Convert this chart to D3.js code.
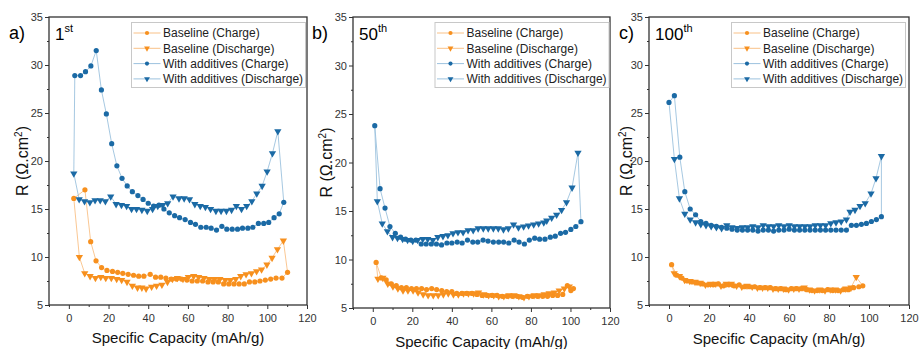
<!DOCTYPE html>
<html>
<head>
<meta charset="utf-8">
<script src="https://cdn.jsdelivr.net/npm/d3@7"></script>
<style>
  body { margin: 0; background: #fff; }
  svg { font-family: "Liberation Sans", Arial, sans-serif; }
</style>
</head>
<body>
<script>
// tick labels
var xTicks = [0, 20, 40, 60, 80, 100, 120];
var xMinor = [-10, 10, 30, 50, 70, 90, 110];
var yTicks = [5, 10, 15, 20, 25, 30, 35];
var yMinor = [7.5, 12.5, 17.5, 22.5, 27.5, 32.5];
var seriesNames = ["Baseline (Charge)", "Baseline (Discharge)", "With additives (Charge)", "With additives (Discharge)"];
var panelLetters = ["a)", "b)", "c)"];
var cycleNums = ["1", "50", "100"];
var cycleSups = ["st", "th", "th"];

// 1st cycle  [capacity mAh/g, R ohm.cm2]
var baseChargeA = [[2.5,16.1],[8.1,17.0],[11.0,11.6],[13.7,9.6],[16.5,8.9],[19.2,8.6],[22.0,8.5],[24.6,8.4],[27.2,8.3],[29.9,8.2],[32.6,8.1],[35.2,8.0],[37.8,8.0],[41.0,8.2],[43.7,7.9],[46.3,7.9],[48.9,7.8],[51.6,7.7],[54.2,7.7],[56.8,7.7],[59.5,7.6],[62.1,7.5],[64.7,7.5],[67.4,7.5],[70.1,7.4],[72.7,7.4],[75.3,7.4],[78.0,7.2],[80.6,7.2],[83.2,7.2],[85.8,7.2],[88.4,7.2],[91.0,7.4],[93.7,7.4],[96.3,7.5],[99.0,7.6],[101.7,7.7],[104.4,7.8],[107.4,7.8],[110.2,8.4]];
var baseDischargeA = [[5.3,10.0],[8.0,8.3],[10.7,8.0],[13.4,7.8],[16.1,7.9],[18.6,7.8],[21.4,7.8],[24.1,7.7],[26.6,7.6],[29.3,7.4],[32.0,7.0],[34.6,6.8],[36.8,6.8],[38.9,6.7],[41.7,6.9],[44.2,7.0],[46.9,7.1],[49.7,7.4],[52.2,7.7],[54.7,7.8],[57.5,7.7],[60.2,7.9],[62.9,8.0],[65.4,7.9],[68.1,7.8],[70.8,7.7],[73.4,7.7],[76.1,7.7],[78.8,7.6],[81.4,7.6],[84.1,7.7],[86.6,8.0],[89.3,8.2],[92.0,8.3],[94.6,8.5],[97.1,8.7],[99.8,9.2],[102.4,9.9],[105.1,10.8],[108.1,11.7]];
var addChargeA = [[3.0,28.9],[5.9,28.9],[8.4,29.3],[11.1,29.9],[13.8,31.5],[16.4,27.4],[18.9,24.9],[21.6,21.8],[24.2,19.5],[26.8,18.2],[29.4,17.4],[32.0,16.8],[34.8,16.4],[37.4,16.0],[40.0,15.6],[42.7,15.3],[45.4,15.4],[47.9,15.0],[50.6,14.6],[53.3,14.3],[55.8,14.1],[58.6,13.9],[61.3,13.6],[63.8,13.4],[66.5,13.1],[69.2,13.1],[71.7,13.0],[74.4,12.8],[77.1,13.2],[79.6,12.9],[82.3,12.9],[85.0,12.9],[87.5,13.0],[90.2,13.0],[92.7,13.1],[95.5,13.5],[98.2,13.5],[100.7,13.6],[103.4,14.1],[106.0,14.5],[108.3,15.7]];
var addDischargeA = [[2.5,18.7],[5.2,16.0],[7.9,15.8],[10.6,15.7],[13.2,15.9],[15.8,15.9],[18.4,15.8],[21.1,16.3],[23.8,15.5],[26.5,15.4],[29.1,15.3],[31.6,15.0],[34.1,15.0],[36.8,14.9],[39.5,14.8],[42.2,15.0],[44.8,15.3],[47.3,15.4],[49.8,15.6],[52.5,16.3],[55.5,16.1],[58.1,16.1],[60.8,16.0],[63.5,15.5],[66.2,15.3],[68.8,15.2],[71.4,15.0],[74.1,14.8],[76.7,14.8],[79.4,14.8],[82.0,14.9],[84.4,15.3],[87.0,15.0],[89.6,15.3],[92.2,15.8],[94.7,16.6],[97.4,17.4],[99.9,18.9],[102.6,20.8],[105.3,23.1]];

// 50th cycle
var baseChargeB = [[1.7,9.7],[4.3,8.1],[6.8,7.9],[9.4,7.5],[11.9,7.3],[14.5,7.1],[17.0,7.1],[19.6,7.0],[22.1,7.0],[24.7,7.0],[27.2,6.9],[29.8,7.0],[32.3,6.9],[34.9,6.8],[37.4,6.7],[40.0,6.7],[42.5,6.5],[45.1,6.5],[47.6,6.5],[50.2,6.5],[52.7,6.4],[55.3,6.3],[57.8,6.3],[60.4,6.3],[62.9,6.3],[65.5,6.2],[68.0,6.2],[70.6,6.2],[73.1,6.2],[75.7,6.1],[78.2,6.2],[80.8,6.2],[83.3,6.2],[85.9,6.2],[88.4,6.2],[91.0,6.3],[93.5,6.3],[96.1,6.4],[98.4,7.3],[100.2,6.8],[101.5,7.0]];
var baseDischargeB = [[2.6,8.0],[5.1,8.1],[7.6,7.5],[10.2,7.2],[12.7,7.0],[15.3,6.8],[17.8,6.8],[20.4,6.8],[22.9,6.6],[25.5,6.4],[28.0,6.3],[30.6,6.3],[33.1,6.3],[35.7,6.4],[38.2,6.5],[40.8,6.4],[43.3,6.4],[45.9,6.5],[48.4,6.5],[51.0,6.5],[53.5,6.6],[56.1,6.4],[58.6,6.3],[61.2,6.3],[63.7,6.2],[66.3,6.2],[68.8,6.3],[71.4,6.3],[73.9,6.2],[76.5,6.1],[79.0,6.2],[81.6,6.3],[84.1,6.3],[86.7,6.4],[89.2,6.5],[91.8,6.6],[94.3,6.8],[96.9,7.0],[99.4,7.2]];
var addChargeB = [[1.0,23.8],[3.7,17.3],[6.2,15.3],[8.7,13.4],[11.4,12.7],[14.1,12.3],[16.6,12.1],[19.3,12.0],[21.8,12.0],[24.5,11.6],[27.0,11.6],[29.6,11.6],[32.2,11.6],[34.8,11.5],[37.5,11.7],[40.0,11.7],[42.7,11.8],[45.2,11.7],[47.9,12.0],[50.6,11.8],[53.1,11.8],[55.8,12.0],[58.3,11.9],[61.0,11.8],[63.7,11.8],[66.2,11.8],[68.8,11.7],[71.5,12.0],[74.0,11.8],[76.7,11.6],[79.2,12.0],[81.9,12.2],[84.4,12.1],[87.1,12.1],[89.8,12.3],[92.3,12.4],[95.0,12.7],[97.5,12.8],[100.2,13.1],[102.7,13.4],[105.3,13.9]];
var addDischargeB = [[2.3,16.0],[4.8,13.7],[7.4,12.9],[10.0,12.3],[12.5,12.2],[15.1,12.1],[17.6,12.0],[20.2,11.9],[22.7,12.0],[25.3,12.1],[27.8,12.1],[30.4,12.0],[32.9,12.3],[35.5,12.4],[38.0,12.5],[40.6,12.7],[43.1,12.8],[45.7,12.8],[48.2,13.0],[50.8,13.0],[53.3,13.2],[55.9,13.2],[58.4,13.2],[61.0,13.2],[63.5,13.2],[66.1,13.1],[68.6,13.2],[71.2,13.6],[73.7,13.3],[76.3,13.4],[78.8,13.5],[81.4,13.6],[83.9,13.7],[86.5,13.8],[88.0,14.0],[90.5,14.3],[93.0,14.6],[95.5,15.1],[98.0,15.9],[100.8,17.4],[103.8,21.0]];

// 100th cycle
var baseChargeC = [[1.3,9.2],[3.9,8.1],[6.5,7.8],[9.1,7.5],[11.7,7.4],[14.3,7.3],[16.9,7.2],[19.5,7.1],[22.1,7.1],[24.7,7.2],[27.3,7.0],[29.9,7.1],[32.5,7.0],[35.1,7.1],[37.7,6.9],[40.3,6.9],[42.9,6.9],[45.5,6.8],[48.1,6.8],[50.7,6.8],[53.3,6.7],[55.9,6.7],[58.5,6.6],[61.1,6.7],[63.7,6.7],[66.3,6.7],[68.9,6.6],[71.5,6.5],[74.1,6.5],[76.7,6.5],[79.3,6.6],[81.9,6.5],[84.5,6.5],[87.1,6.6],[89.7,6.6],[92.3,6.8],[94.9,6.9],[96.9,7.0]];
var baseDischargeC = [[2.6,8.3],[5.2,8.0],[7.8,7.6],[10.4,7.5],[13.0,7.4],[15.6,7.3],[18.2,7.1],[20.8,7.2],[23.4,7.2],[26.0,7.0],[28.6,7.2],[31.2,7.2],[33.8,7.0],[36.4,6.9],[39.0,7.0],[41.6,6.9],[44.2,6.8],[46.8,6.8],[49.4,6.8],[52.0,6.7],[54.6,6.7],[57.2,6.7],[59.8,6.6],[62.4,6.7],[65.0,6.7],[67.6,6.8],[70.2,6.6],[72.8,6.5],[75.4,6.6],[78.0,6.5],[80.6,6.6],[83.2,6.6],[85.8,6.5],[88.4,6.7],[91.0,6.8],[93.6,7.9]];
var addChargeC = [[0.0,26.1],[2.7,26.8],[5.4,20.4],[7.9,16.8],[10.6,15.0],[13.3,14.4],[15.9,13.7],[18.5,13.5],[21.1,13.3],[23.7,13.2],[26.3,13.1],[28.9,13.0],[31.5,12.9],[34.1,12.8],[36.7,12.8],[39.3,12.8],[41.9,12.8],[44.5,12.7],[47.1,12.8],[49.7,12.8],[52.3,12.7],[54.9,12.8],[57.5,12.8],[60.1,12.9],[62.7,12.8],[65.3,12.8],[67.9,12.8],[70.5,12.8],[73.1,12.8],[75.7,12.8],[78.3,12.8],[80.9,12.8],[83.5,12.8],[86.1,12.8],[88.7,12.8],[91.2,13.3],[93.7,13.3],[96.2,13.4],[98.7,13.5],[101.2,13.7],[103.7,13.9],[106.2,14.2]];
var addDischargeC = [[2.7,20.2],[5.2,16.1],[7.9,14.5],[10.6,13.9],[13.3,13.6],[15.9,13.4],[18.5,13.3],[21.1,13.2],[23.7,13.1],[26.3,13.0],[28.9,13.3],[31.5,13.1],[34.1,13.0],[36.7,13.1],[39.3,13.1],[41.9,13.2],[44.5,13.1],[47.1,13.3],[49.7,13.2],[52.3,13.2],[54.9,13.3],[57.5,13.2],[60.1,13.3],[62.7,13.2],[65.3,13.2],[67.9,13.2],[70.5,13.2],[73.1,13.3],[75.7,13.3],[78.3,13.3],[80.9,13.5],[83.5,13.6],[86.1,13.7],[88.7,13.9],[90.5,14.7],[93.0,14.9],[95.5,15.3],[98.1,15.6],[101.0,16.6],[103.5,18.2],[106.2,20.5]];

var panelData = [
  [baseChargeA, baseDischargeA, addChargeA, addDischargeA],
  [baseChargeB, baseDischargeB, addChargeB, addDischargeB],
  [baseChargeC, baseDischargeC, addChargeC, addDischargeC]
];

// layout
var boxes = [
  {x0: 49, x1: 307, y0: 17, y1: 305, labX: 9, ylabX: 28, xlabY: 343, legX: 131.5},
  {x0: 353, x1: 610, y0: 17, y1: 308, labX: 312, ylabX: 332, xlabY: 347, legX: 435},
  {x0: 649, x1: 909, y0: 17, y1: 305, labX: 619, ylabX: 632, xlabY: 344, legX: 731.5}
];
var orange = "#f7901e", blue = "#1b6aa5";
var colors = [orange, orange, blue, blue];
var lineColors = ["#f9c187", "#f9c187", "#9cc2de", "#9cc2de"];
var shapes = ["circle", "tri", "circle", "tri"];

var svg = d3.select("body").append("svg")
    .attr("width", 919)
    .attr("height", 349);

var triPath = d3.symbol().type(d3.symbolTriangle).size(23)();

function marker(sel, shape, color) {
  if (shape == "circle") {
    sel.append("circle").attr("r", 2.6).attr("fill", color);
  } else {
    sel.append("path").attr("d", triPath).attr("transform", "rotate(180)").attr("fill", color);
  }
}

boxes.forEach(function(b, pi) {
  var x = d3.scaleLinear().domain([-10, 120]).range([b.x0, b.x1]);
  var y = d3.scaleLinear().domain([5, 35]).range([b.y1, b.y0]);
  var g = svg.append("g");

  // lines (discharge drawn from charge start to charge end, like the source loops)
  var line = d3.line().x(function(d) { return x(d[0]); }).y(function(d) { return y(d[1]); });
  var series = panelData[pi];
  series.forEach(function(s, si) {
    var pts = s;
    if (si % 2 == 1) {
      var ch = series[si - 1];
      pts = [ch[0]].concat(s, [ch[ch.length - 1]]);
    }
    g.append("path").attr("d", line(pts))
      .attr("fill", "none").attr("stroke", lineColors[si]).attr("stroke-width", 0.9);
  });
  // markers
  [0, 1, 2, 3].forEach(function(si) {
    g.selectAll(".m" + si).data(series[si]).enter().append("g")
      .attr("class", "m" + si)
      .attr("transform", function(d) { return "translate(" + x(d[0]) + "," + y(d[1]) + ")"; })
      .each(function() { marker(d3.select(this), shapes[si], colors[si]); });
  });

  // axes
  var xa = g.append("g").attr("transform", "translate(0," + b.y1 + ")")
    .call(d3.axisBottom(x).tickValues(xTicks).tickSize(4).tickSizeOuter(0));
  var xm = g.append("g").attr("transform", "translate(0," + b.y1 + ")")
    .call(d3.axisBottom(x).tickValues(xMinor).tickSize(2).tickSizeOuter(0).tickFormat(""));
  var ya = g.append("g").attr("transform", "translate(" + b.x0 + ",0)")
    .call(d3.axisLeft(y).tickValues(yTicks).tickSize(4).tickSizeOuter(0));
  var ym = g.append("g").attr("transform", "translate(" + b.x0 + ",0)")
    .call(d3.axisLeft(y).tickValues(yMinor).tickSize(2).tickSizeOuter(0).tickFormat(""));
  [xa, xm, ya, ym].forEach(function(a) {
    a.select(".domain").remove();
    a.selectAll("line").attr("stroke", "#333");
    a.selectAll("text").attr("fill", "#333").style("font-size", "11px")
      .style("font-family", "'Liberation Sans', Arial, sans-serif");
  });
  xa.selectAll("text").attr("y", 9);
  ya.selectAll("text").attr("x", -6);

  // frame
  g.append("rect").attr("x", b.x0).attr("y", b.y0)
    .attr("width", b.x1 - b.x0).attr("height", b.y1 - b.y0)
    .attr("fill", "none").attr("stroke", "#333").attr("stroke-width", 1.3);

  // panel labels
  g.append("text").attr("x", b.labX).attr("y", 39).attr("font-size", 18).text(panelLetters[pi]);
  var ct = g.append("text").attr("x", b.x0 + 6).attr("y", 40).attr("font-size", 17);
  ct.append("tspan").text(cycleNums[pi]);
  ct.append("tspan").attr("dy", -8).attr("font-size", 11).text(cycleSups[pi]);

  // axis titles
  g.append("text").attr("transform", "translate(" + b.ylabX + "," + ((b.y0 + b.y1) / 2) + ") rotate(-90)")
    .attr("text-anchor", "middle").attr("font-size", 16).attr("fill", "#111")
    .html("R (Ω.cm<tspan dy='-6' font-size='10'>2</tspan><tspan dy='6'>)</tspan>");
  g.append("text").attr("x", (b.x0 + b.x1) / 2).attr("y", b.xlabY)
    .attr("text-anchor", "middle").attr("font-size", 15).attr("fill", "#111")
    .text("Specific Capacity (mAh/g)");

  // legend
  var lw = 174, lh = 65;
  var lg = g.append("g").attr("transform", "translate(" + b.legX + "," + (b.y0 + 5.5) + ")");
  lg.append("rect").attr("width", lw).attr("height", lh)
    .attr("fill", "#fff").attr("stroke", "#c8c8c8").attr("stroke-width", 1);
  seriesNames.forEach(function(name, si) {
    var row = lg.append("g").attr("transform", "translate(0," + (10.5 + si * 15.3) + ")");
    row.append("line").attr("x1", 2).attr("x2", 29).attr("stroke", lineColors[si]).attr("stroke-width", 1);
    var mk = row.append("g").attr("transform", "translate(15.5,0) scale(0.8)");
    marker(mk, shapes[si], colors[si]);
    row.append("text").attr("x", 31.5).attr("y", 4.3).attr("font-size", 12).attr("fill", "#222").text(name);
  });
});
</script>
</body>
</html>
